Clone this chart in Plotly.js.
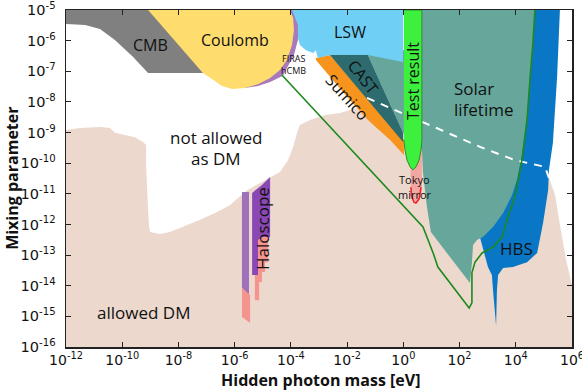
<!DOCTYPE html>
<html><head><meta charset="utf-8">
<script src="https://cdn.plot.ly/plotly-3.0.1.min.js"></script>
<style>html,body{margin:0;padding:0;background:#fff}#chart{width:582px;height:390px}</style>
</head><body><div id="chart"></div>
<script>
// ---- data: region outlines as log10(mass/eV), log10(mixing) ----
const allowedDM_logm = [-12.00,-11.50,-10.79,-10.43,-10.26,-9.90,-9.55,-9.26,-9.15,-9.15,-9.12,-9.08,-9.05,-9.01,-8.83,-8.66,-8.30,-7.94,-7.23,-6.70,-6.17,-5.56,-5.10,-4.74,-4.39,-4.10,-3.92,-3.78,-3.68,-3.32,-2.79,-2.25,-1.54,-0.83,1.66,5.04,5.15,5.40,5.57,5.79,6.00,6.00,-12.00];
const allowedDM_logchi = [-8.92,-8.85,-8.82,-8.85,-9.01,-9.08,-9.15,-9.31,-9.41,-10.06,-10.88,-11.53,-12.02,-12.25,-12.28,-12.31,-12.25,-12.12,-11.85,-11.63,-11.37,-10.88,-10.65,-10.45,-10.29,-9.90,-9.47,-9.01,-8.75,-8.59,-8.43,-8.36,-8.17,-8.26,-8.92,-10.12,-10.39,-11.04,-12.02,-13.16,-13.98,-16.00,-16.00];

const cmb_logm = [-12,-12,-11.32,-10.79,-10.26,-9.62,-9.08,-5.99,-5.99];
const cmb_logchi = [-5,-5.46,-5.49,-5.62,-5.98,-6.53,-7.06,-7.06,-5];

const hbs_logm = [4.33,5.57,5.47,5.32,5.18,5.15,4.97,4.76,4.40,3.90,3.55,3.37,3.33,3.30,3.19,3.15,3.01,2.91,2.73,2.37,2.73,3.44,3.97];
const hbs_logchi = [-5,-5,-7.19,-9.34,-10.22,-10.88,-11.95,-12.93,-13.23,-13.39,-13.42,-13.65,-14.14,-15.31,-14.14,-13.65,-13.39,-13.06,-12.44,-11.20,-9.57,-7.94,-5];

const solar_logm = [-1.26,-1.26,0.02,0.02,4.68,4.61,4.51,4.40,4.22,4.04,3.87,3.69,3.55,3.19,2.83,2.62,2.48,2.44,2.37,1.55,0.98,0.84,0.70,0.66,0.42,-0.01];
const solar_logchi = [-6.47,-6.31,-6.31,-5,-5,-6.08,-7.19,-8.43,-9.73,-10.55,-11.04,-11.37,-11.63,-12.08,-12.41,-12.51,-12.67,-13.26,-13.91,-12.93,-12.25,-11.43,-10.32,-9.57,-9.24,-9.01];

const sumico_logm = [-3.11,-2.61,0.02,0.02,-0.47,-1.26,-2.00,-2.72,-3.11];
const sumico_logchi = [-6.57,-6.47,-9.24,-9.73,-9.24,-8.59,-7.84,-7.06,-6.63];

const cast_logm = [-2.61,-1.26,-0.01,-0.01];
const cast_logchi = [-6.47,-6.47,-9.01,-9.31];

const lsw_logm = [-4.10,-0.01,-0.01,-0.65,-1.26,-2.61,-3.04,-3.11,-3.21,-3.46,-3.68,-3.78,-3.89];
const lsw_logchi = [-5,-5,-6.70,-6.57,-6.47,-6.47,-6.57,-6.31,-6.40,-6.31,-6.14,-5.82,-5.33];

const firas_logm = [-5.63,-5.17,-4.74,-4.28,-4.14,-3.89,-3.75,-3.75,-3.96,-5.45];
const firas_logchi = [-7.55,-7.48,-7.35,-7.15,-6.89,-6.47,-5.98,-5.49,-5.00,-5.00];

const coulomb_logm = [-9.08,-4.03,-3.92,-3.89,-3.96,-4.14,-4.39,-4.74,-5.17,-5.63,-6.09,-6.45,-6.77,-7.13,-9.08];
const coulomb_logchi = [-5,-5,-5.26,-5.65,-6.14,-6.63,-6.96,-7.22,-7.42,-7.55,-7.58,-7.48,-7.28,-7.06,-5];

const tokyo_logm = [0.24,0.66,0.66,0.63,0.52,0.42,0.31,0.27];
const tokyo_logchi = [-9.57,-9.08,-10.88,-11.10,-11.27,-11.30,-11.17,-10.88];
const tokyoEdge_logm = [0.27,0.29,0.38,0.45,0.56,0.63];
const tokyoEdge_logchi = [-10.78,-11.07,-11.27,-11.30,-11.17,-10.78];

const dashed_logm = [-1.29,1.20,2.73,3.97,5.04,5.18];
const dashed_logchi = [-7.87,-8.85,-9.47,-9.90,-10.12,-10.48];

const test_logm = [0.02,0.66,0.66,0.63,0.56,0.45,0.34,0.24,0.13,0.06,0.02];
const test_logchi = [-5,-5,-9.24,-9.57,-9.90,-10.12,-10.22,-10.12,-9.90,-9.57,-9.24];

const halo1_logm = [-5.74,-5.49,-5.49,-5.74];
const halo1_logchi = [-10.94,-10.94,-14.30,-14.07];
const halo1red_logm = [-5.74,-5.45,-5.45,-5.74];
const halo1red_logchi = [-14.07,-14.30,-15.22,-15.02];
const halo2_logm = [-5.38,-5.03,-4.74,-4.74,-5.03,-5.17,-5.17,-5.38];
const halo2_logchi = [-10.97,-10.71,-10.45,-12.41,-12.41,-12.51,-13.65,-13.65];
const halo2red_logm = [-5.24,-4.81,-4.81,-4.92,-4.92,-5.03,-5.03,-5.13,-5.13,-5.28,-5.28];
const halo2red_logchi = [-12.41,-12.41,-13.23,-13.23,-13.55,-13.55,-13.88,-13.88,-14.47,-14.47,-13.65];

const limit_logm = [-4.32,0.70,1.06,1.23,2.26,2.34,2.44,2.44,2.55,2.80,3.19,3.51,3.72,3.97,4.22,4.40,4.51,4.61,4.68];
const limit_logchi = [-7.12,-12.08,-12.93,-13.39,-14.63,-14.73,-14.56,-13.58,-13.23,-12.93,-12.74,-12.41,-11.76,-11.10,-9.90,-8.59,-7.19,-6.08,-5.00];

const xTickExp = [-12,-10,-8,-6,-4,-2,0,2,4,6];
const yTickExp = [-16,-15,-14,-13,-12,-11,-10,-9,-8,-7,-6,-5];

// ---- build ----
const p10 = a => a.map(v => Math.pow(10, v));
function poly(lm, lc, color, lineColor, lw) {
  return {x: p10(lm), y: p10(lc), mode: 'lines', fill: 'toself', fillcolor: color,
    line: {color: lineColor || color, width: lw || 0}, hoverinfo: 'skip', showlegend: false};
}
function line(lm, lc, color, w, dash) {
  return {x: p10(lm), y: p10(lc), mode: 'lines', line: {color: color, width: w, dash: dash || 'solid'},
    hoverinfo: 'skip', showlegend: false};
}

const traces = [
  poly(allowedDM_logm, allowedDM_logchi, '#ecd8cd'),
  poly(cmb_logm, cmb_logchi, '#808080'),
  poly(hbs_logm, hbs_logchi, '#0977c5'),
  poly(solar_logm, solar_logchi, '#67a79b'),
  poly(sumico_logm, sumico_logchi, '#f7941e'),
  poly(cast_logm, cast_logchi, '#2d6b6f'),
  poly(lsw_logm, lsw_logchi, '#6fcff5'),
  poly(firas_logm, firas_logchi, '#a97abb'),
  poly(coulomb_logm, coulomb_logchi, '#fedc6e'),
  poly(tokyo_logm, tokyo_logchi, 'rgba(250,110,110,0.45)'),
  line(tokyoEdge_logm, tokyoEdge_logchi, '#ee2222', 1.5),
  line(dashed_logm, dashed_logchi, '#ffffff', 2, '8px,7px'),
  poly(test_logm, test_logchi, '#3ef03e', '#2a8f2a', 1),
  poly(halo1_logm, halo1_logchi, '#a071bb'),
  poly(halo1red_logm, halo1red_logchi, '#f5948e'),
  poly(halo2red_logm, halo2red_logchi, '#f5948e'),
  poly(halo2_logm, halo2_logchi, '#8a48b4'),
  line(limit_logm, limit_logchi, '#1d8a1d', 1.6)
];

const tickText = e => '10<sup>' + e + '</sup>';
const lab = (t, x, y, size, angle, extra) => Object.assign({text: t, x: x, y: y, xref: 'x', yref: 'y',
  showarrow: false, textangle: angle || 0, font: {family: 'Open Sans, sans-serif', size: size, color: '#111'}}, extra || {});

const layout = {
  width: 582, height: 390,
  margin: {l: 66, r: 10, t: 10, b: 43},
  paper_bgcolor: '#fff', plot_bgcolor: '#fff',
  showlegend: false,
  xaxis: {type: 'log', range: [-12, 6], tickvals: p10(xTickExp), ticktext: xTickExp.map(tickText),
    ticks: 'inside', ticklen: 5, tickcolor: '#222', tickwidth: 1, mirror: 'ticks', showline: true,
    linecolor: '#222', linewidth: 1.5, showgrid: false, zeroline: false, automargin: false,
    ticklabeloverflow: 'allow', tickfont: {family: 'DejaVu Sans, sans-serif', size: 14, color: '#111'}},
  yaxis: {type: 'log', range: [-16, -5], tickvals: p10(yTickExp), ticktext: yTickExp.map(tickText),
    ticks: 'inside', ticklen: 5, tickcolor: '#222', tickwidth: 1, mirror: 'ticks', showline: true,
    linecolor: '#222', linewidth: 1.5, showgrid: false, zeroline: false, automargin: false,
    ticklabeloverflow: 'allow', ticklabelstandoff: 6,
    tickfont: {family: 'DejaVu Sans, sans-serif', size: 14.5, color: '#111'}},
  annotations: [
    lab('CMB', -8.98, -6.14, 16),
    lab('Coulomb', -5.99, -5.98, 16),
    lab('LSW', -1.90, -5.72, 16),
    lab('FIRAS', -3.92, -6.57, 9),
    lab('hCMB', -3.92, -6.96, 9),
    lab('CAST', -1.43, -7.19, 16, 52),
    lab('Sumico', -2.00, -7.84, 16, 48),
    lab('Test result', 0.34, -7.32, 16, -90),
    lab('Solar', 1.73, -7.55, 17, 0, {xanchor: 'left'}),
    lab('lifetime', 1.73, -8.26, 17, 0, {xanchor: 'left'}),
    lab('not allowed', -6.66, -9.15, 17),
    lab('as DM', -6.66, -9.86, 17),
    lab('Tokyo', 0.38, -10.52, 11),
    lab('mirror', 0.40, -11.01, 11),
    lab('Haloscope', -5.03, -12.12, 17, -90),
    lab('HBS', 4.04, -12.77, 17),
    lab('allowed DM', -9.26, -14.86, 17),
    {text: 'Mixing parameter', xref: 'paper', yref: 'paper', x: -0.108, y: 0.5, textangle: -90,
      showarrow: false, xanchor: 'center', yanchor: 'middle', borderpad: 0,
      font: {family: 'Open Sans, sans-serif', size: 16, weight: 700, color: '#111'}},
    {text: 'Hidden photon mass [eV]', xref: 'paper', yref: 'paper', x: 0.502, y: -0.097,
      showarrow: false, xanchor: 'center', yanchor: 'middle', borderpad: 0,
      font: {family: 'Open Sans, sans-serif', size: 16, weight: 700, color: '#111'}}
  ]
};

Plotly.newPlot('chart', traces, layout, {staticPlot: true, displayModeBar: false});
</script>
</body></html>
